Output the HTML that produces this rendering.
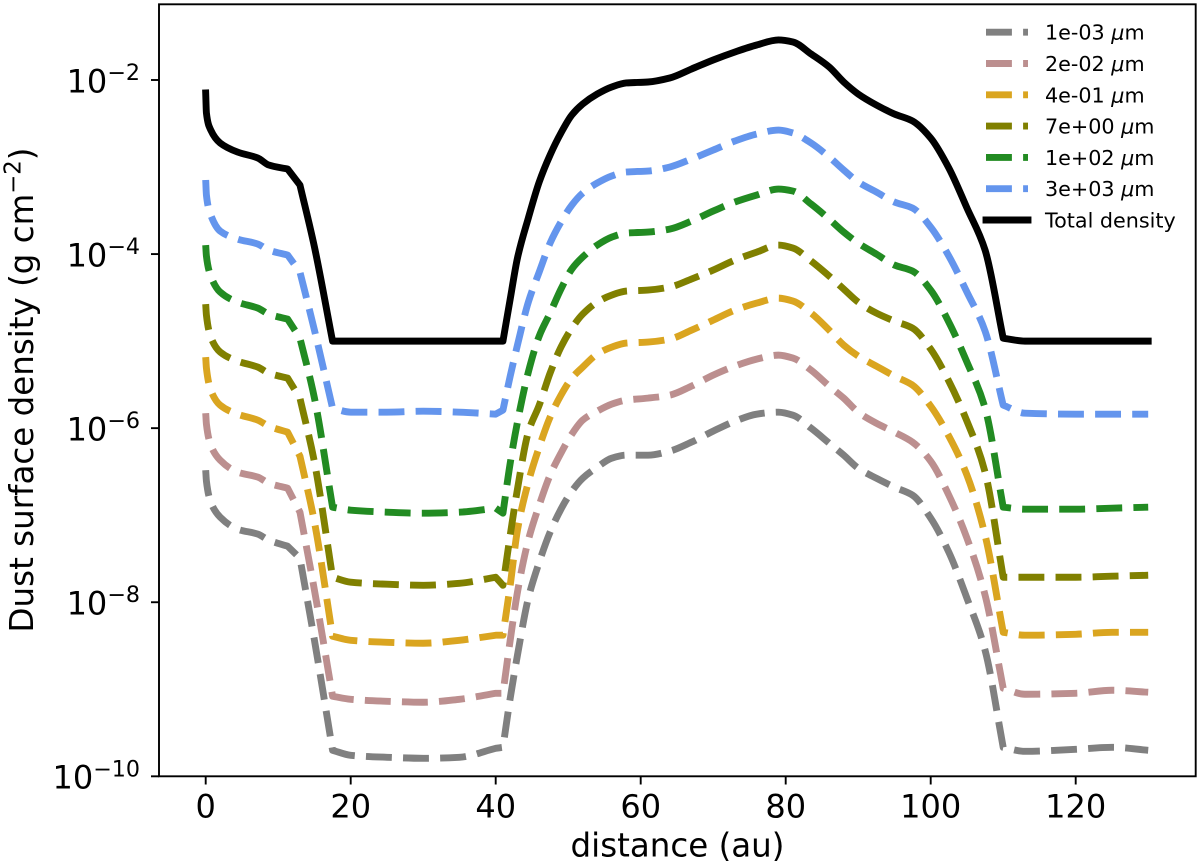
<!DOCTYPE html>
<html lang="en">
<head>
<meta charset="utf-8">
<title>Dust surface density</title>
<style>
  html, body { margin: 0; padding: 0; background: #fff; }
  svg { display: block; font-family: "DejaVu Sans", "Liberation Sans", sans-serif; fill: #000; }
</style>
</head>
<body>
<svg id="chart" xmlns="http://www.w3.org/2000/svg" width="1200" height="866" viewBox="0 0 1200 866">
  <rect x="0" y="0" width="1200" height="866" fill="#fff"/>
  <g id="series-layer"></g>
  <rect x="159" y="4.3" width="1036.7" height="772" fill="none" stroke="#000" stroke-width="1.9"/>
  <g id="x-axis"></g>
  <g id="y-axis"></g>
  <text x="677.5" y="856.5" font-size="32.5" text-anchor="middle">distance (au)</text>
  <text transform="translate(33,390) rotate(-90)" font-size="32.5" text-anchor="middle">Dust surface density (g cm<tspan font-size="22.75" dy="-12.5">−2</tspan><tspan dy="12.5">)</tspan></text>
  <g id="legend"></g>
</svg>
<script>
// Values. Densities are stored as log10(g cm^-2).
const distanceAu = [0,0.1,0.7,2,4.4,7.2,8.7,11.3,13,15,17.5,20,25,30,35,40,41,42,43,44.5,46,47.5,49,50.5,52,54,56,58,61,64,67,70,73,76,79,81,83.5,86,88,90,92.5,95,97.5,100,102.5,105,107.5,110,113,120,125,130];
const logDensity1em03 = [-6.483,-6.609,-6.850,-7.023,-7.161,-7.218,-7.287,-7.356,-7.494,-8.437,-9.701,-9.758,-9.781,-9.793,-9.781,-9.678,-9.667,-9.103,-8.609,-7.954,-7.540,-7.195,-6.931,-6.724,-6.575,-6.448,-6.345,-6.310,-6.310,-6.264,-6.161,-6.034,-5.920,-5.839,-5.816,-5.851,-6.000,-6.172,-6.310,-6.460,-6.575,-6.678,-6.770,-7.034,-7.425,-7.954,-8.552,-9.667,-9.713,-9.690,-9.667,-9.701];
const logDensity2em02 = [-5.828,-5.954,-6.195,-6.368,-6.506,-6.563,-6.632,-6.690,-6.965,-7.862,-9.080,-9.115,-9.138,-9.149,-9.115,-9.046,-9.046,-8.437,-7.885,-7.287,-6.885,-6.540,-6.287,-6.069,-5.908,-5.805,-5.724,-5.678,-5.655,-5.621,-5.517,-5.391,-5.287,-5.207,-5.161,-5.195,-5.333,-5.517,-5.655,-5.816,-5.943,-6.046,-6.161,-6.379,-6.770,-7.264,-7.919,-8.988,-9.057,-9.046,-9.011,-9.034];
const logDensity4em01 = [-5.184,-5.310,-5.563,-5.736,-5.839,-5.908,-5.977,-6.046,-6.322,-7.080,-8.391,-8.437,-8.460,-8.471,-8.437,-8.379,-8.379,-7.805,-7.172,-6.621,-6.218,-5.874,-5.621,-5.425,-5.299,-5.149,-5.069,-5.023,-5.011,-4.977,-4.874,-4.759,-4.644,-4.563,-4.506,-4.540,-4.678,-4.874,-5.046,-5.172,-5.287,-5.402,-5.506,-5.747,-6.092,-6.540,-7.230,-8.345,-8.379,-8.368,-8.345,-8.345];
const logDensity7ep00 = [-4.575,-4.701,-4.954,-5.126,-5.230,-5.299,-5.368,-5.425,-5.655,-6.391,-7.713,-7.770,-7.793,-7.805,-7.782,-7.713,-7.805,-7.230,-6.701,-6.046,-5.736,-5.368,-5.069,-4.851,-4.690,-4.552,-4.471,-4.425,-4.414,-4.379,-4.287,-4.184,-4.069,-3.977,-3.897,-3.931,-4.080,-4.253,-4.402,-4.552,-4.678,-4.770,-4.851,-5.092,-5.460,-5.920,-6.506,-7.713,-7.713,-7.713,-7.701,-7.690];
const logDensity1ep02 = [-3.897,-4.023,-4.253,-4.437,-4.552,-4.621,-4.690,-4.747,-4.966,-5.655,-6.908,-6.942,-6.965,-6.977,-6.965,-6.919,-6.977,-6.402,-5.931,-5.356,-4.942,-4.678,-4.402,-4.172,-4.034,-3.897,-3.805,-3.759,-3.747,-3.713,-3.621,-3.506,-3.402,-3.322,-3.253,-3.276,-3.425,-3.598,-3.747,-3.874,-4.000,-4.126,-4.195,-4.414,-4.782,-5.241,-5.770,-6.908,-6.931,-6.931,-6.919,-6.908];
const logDensity3ep03 = [-3.149,-3.322,-3.552,-3.736,-3.828,-3.885,-3.954,-4.011,-4.207,-4.874,-5.770,-5.816,-5.816,-5.805,-5.816,-5.839,-5.793,-5.402,-5.046,-4.552,-4.207,-3.874,-3.632,-3.437,-3.299,-3.184,-3.103,-3.057,-3.046,-3.000,-2.908,-2.805,-2.701,-2.621,-2.575,-2.609,-2.724,-2.885,-3.034,-3.172,-3.287,-3.402,-3.471,-3.690,-4.023,-4.437,-4.885,-5.736,-5.828,-5.839,-5.839,-5.839];
const logDensityTotal = [-2.149,-2.379,-2.575,-2.724,-2.828,-2.897,-2.977,-3.023,-3.207,-3.919,-5,-5,-5,-5,-5,-5,-5,-4.517,-4.046,-3.586,-3.172,-2.862,-2.609,-2.402,-2.276,-2.161,-2.080,-2.034,-2.023,-1.977,-1.874,-1.770,-1.678,-1.598,-1.540,-1.563,-1.701,-1.851,-2.023,-2.161,-2.287,-2.391,-2.471,-2.667,-3.011,-3.471,-3.954,-4.966,-5,-5,-5,-5];
const sizeLabels = ['1e-03', '2e-02', '4e-01', '7e+00', '1e+02', '3e+03'];
const totalLabel = 'Total density';
const xTickValues = [0, 20, 40, 60, 80, 100, 120];
const yTickExponents = [-2, -4, -6, -8, -10];
const kinkDistancesAu = [11.3, 13, 17.5, 40, 41, 110];

const dashedSeries = [logDensity1em03, logDensity2em02, logDensity4em01, logDensity7ep00, logDensity1ep02, logDensity3ep03];
const dashedColors = ['#808080', '#bc8f8f', '#daa520', '#808000', '#228b22', '#6495ed'];

const NS = 'http://www.w3.org/2000/svg';
const LINE_WIDTH = 6.9;
const DASH = '25.9 11.2';
const xScale = function (au) { return 205.7 + au * 7.25; };
const yScale = function (logValue) { return 80 + (-2 - logValue) * 87.04; };

function svgEl(tag, parent, attrs) {
  const el = document.createElementNS(NS, tag);
  Object.keys(attrs).forEach(function (k) { el.setAttribute(k, attrs[k]); });
  parent.appendChild(el);
  return el;
}

// Shape-preserving cubic through the data, with sharp corners kept at the kinks.
function pathData(values) {
  const xs = distanceAu.map(xScale);
  const ys = values.map(yScale);
  const n = xs.length;
  const h = [];
  const d = [];
  for (let i = 0; i < n - 1; i++) {
    h.push(xs[i + 1] - xs[i]);
    d.push((ys[i + 1] - ys[i]) / h[i]);
  }
  const isKink = distanceAu.map(function (a) { return kinkDistancesAu.indexOf(a) >= 0; });
  const slopeOf = function (i) {
    if (d[i - 1] * d[i] <= 0) return 0;
    const w1 = 2 * h[i] + h[i - 1];
    const w2 = h[i] + 2 * h[i - 1];
    return (w1 + w2) / (w1 / d[i - 1] + w2 / d[i]);
  };
  let out = 'M' + xs[0].toFixed(2) + ' ' + ys[0].toFixed(2);
  for (let i = 0; i < n - 1; i++) {
    const m0 = (i === 0 || isKink[i]) ? d[i] : slopeOf(i);
    const m1 = (i === n - 2 || isKink[i + 1]) ? d[i] : slopeOf(i + 1);
    const c1x = xs[i] + h[i] / 3;
    const c1y = ys[i] + m0 * h[i] / 3;
    const c2x = xs[i + 1] - h[i] / 3;
    const c2y = ys[i + 1] - m1 * h[i] / 3;
    out += ' C' + c1x.toFixed(2) + ' ' + c1y.toFixed(2) + ' ' + c2x.toFixed(2) + ' ' + c2y.toFixed(2) + ' ' + xs[i + 1].toFixed(2) + ' ' + ys[i + 1].toFixed(2);
  }
  return out;
}

// Series
const seriesLayer = document.getElementById('series-layer');
dashedSeries.forEach(function (values, i) {
  const p = svgEl('path', seriesLayer, {
    d: pathData(values), fill: 'none', stroke: dashedColors[i],
    'stroke-width': LINE_WIDTH, 'stroke-dasharray': DASH, 'stroke-linejoin': 'round'
  });
  
  
});
const totalPath = svgEl('path', seriesLayer, {
  d: pathData(logDensityTotal), fill: 'none', stroke: '#000',
  'stroke-width': LINE_WIDTH, 'stroke-linejoin': 'round', 'stroke-linecap': 'square'
});



// X axis
const xAxis = document.getElementById('x-axis');
xTickValues.forEach(function (t) {
  const x = xScale(t);
  const tick = svgEl('line', xAxis, { x1: x, x2: x, y1: 776.3, y2: 784.5, stroke: '#000', 'stroke-width': 1.9 });
  
  
  const label = svgEl('text', xAxis, { x: x, y: 817.5, 'font-size': 32, 'text-anchor': 'middle' });
  label.textContent = String(t);
  
  
});

// Y axis
const yAxis = document.getElementById('y-axis');
yTickExponents.forEach(function (e) {
  const y = yScale(e);
  const tick = svgEl('line', yAxis, { x1: 151, x2: 159, y1: y, y2: y, stroke: '#000', 'stroke-width': 1.9 });
  
  
  const label = svgEl('text', yAxis, { x: 140, y: y + 12.3, 'font-size': 32, 'text-anchor': 'end' });
  
  
  label.appendChild(document.createTextNode('10'));
  const sup = svgEl('tspan', label, { 'font-size': 22.2, dy: -12.3 });
  sup.textContent = '\u2212' + Math.abs(e);
});

// Legend
const legend = document.getElementById('legend');
const legendTop = 32.2;
const legendStep = 31.3;
sizeLabels.forEach(function (name, i) {
  const y = legendTop + i * legendStep;
  const handle = svgEl('line', legend, {
    x1: 986, x2: 1028, y1: y, y2: y, stroke: dashedColors[i],
    'stroke-width': LINE_WIDTH, 'stroke-dasharray': DASH
  });
  
  
  const text = svgEl('text', legend, { x: 1045, y: y + 7.5, 'font-size': 20.7 });
  
  
  text.appendChild(document.createTextNode(name + ' '));
  const mu = svgEl('tspan', text, { 'font-style': 'italic' });
  mu.textContent = '\u03bc';
  text.appendChild(document.createTextNode('m'));
});
const totalY = legendTop + sizeLabels.length * legendStep;
const totalHandle = svgEl('line', legend, {
  x1: 986, x2: 1028, y1: totalY, y2: totalY, stroke: '#000',
  'stroke-width': LINE_WIDTH, 'stroke-linecap': 'square'
});


const totalText = svgEl('text', legend, { x: 1045, y: totalY + 7.5, 'font-size': 20.7 });
totalText.textContent = totalLabel;


</script>
</body>
</html>
